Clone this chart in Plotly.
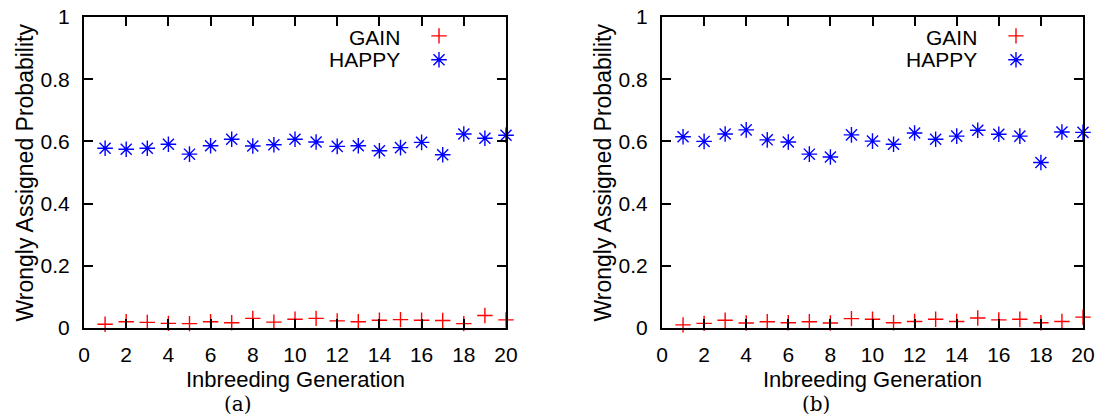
import plotly.graph_objects as go

W, H = 1101, 416

generations = list(range(1, 21))

gain_a = [0.012, 0.020, 0.018, 0.015, 0.014, 0.020, 0.017, 0.031, 0.019, 0.028,
          0.031, 0.023, 0.020, 0.025, 0.027, 0.025, 0.024, 0.014, 0.040, 0.026]
happy_a = [0.578, 0.575, 0.578, 0.591, 0.559, 0.586, 0.607, 0.585, 0.589, 0.607,
           0.598, 0.584, 0.586, 0.570, 0.580, 0.597, 0.557, 0.624, 0.610, 0.620]

gain_b = [0.010, 0.015, 0.025, 0.016, 0.020, 0.017, 0.020, 0.016, 0.030, 0.028,
          0.017, 0.021, 0.028, 0.021, 0.032, 0.026, 0.028, 0.017, 0.021, 0.035]
happy_b = [0.615, 0.600, 0.624, 0.637, 0.605, 0.598, 0.559, 0.550, 0.621, 0.601,
           0.591, 0.627, 0.607, 0.617, 0.636, 0.623, 0.617, 0.532, 0.630, 0.629]

x_ticks = list(range(0, 21, 2))
y_ticks = [0, 0.2, 0.4, 0.6, 0.8, 1]
y_tick_text = ["0", "0.2", "0.4", "0.6", "0.8", "1"]

series_names = ["GAIN", "HAPPY"]
x_title = "Inbreeding Generation"
y_title = "Wrongly Assigned Probability"
captions = ["(a)", "(b)"]

RED = "#ff0000"
BLUE = "#0000ff"
FONT = "Liberation Sans, Arial, sans-serif"
SERIF = "DejaVu Serif, Liberation Serif, serif"


def px_x(p):
    return p / W


def px_y(p):
    return 1 - p / H


panels = [
    dict(gain=gain_a, happy=happy_a, left=84, right=506, xa="x", ya="y", legend="legend"),
    dict(gain=gain_b, happy=happy_b, left=662, right=1083, xa="x2", ya="y2", legend="legend2"),
]
top, bottom = 17, 328

fig = go.Figure()
for p in panels:
    fig.add_trace(go.Scatter(
        x=generations, y=p["gain"], mode="markers", name="",
        xaxis=p["xa"], yaxis=p["ya"], legend=p["legend"], cliponaxis=False,
        hovertemplate="GAIN: %{y}<extra></extra>",
        marker=dict(symbol="cross-thin-open", size=11, line=dict(color=RED, width=1.4), color=RED),
    ))
    fig.add_trace(go.Scatter(
        x=generations, y=p["happy"], mode="markers", name="",
        xaxis=p["xa"], yaxis=p["ya"], legend=p["legend"], cliponaxis=False,
        hovertemplate="HAPPY: %{y}<extra></extra>",
        marker=dict(symbol="asterisk-open", size=13, line=dict(color=BLUE, width=1.4), color=BLUE),
    ))

axis_common = dict(
    showline=True, linecolor="black", linewidth=2, mirror="allticks",
    ticks="inside", ticklen=9, tickwidth=1.5, tickcolor="black",
    showgrid=False, zeroline=False, automargin=False,
    tickfont=dict(family=FONT, size=21, color="black"),
)

layout = dict(
    width=W, height=H,
    margin=dict(l=0, r=0, t=0, b=0, autoexpand=False),
    paper_bgcolor="white", plot_bgcolor="white",
    font=dict(family=FONT, size=21, color="black"),
    annotations=[],
)

for i, p in enumerate(panels):
    sfx = "" if i == 0 else "2"
    layout["xaxis" + sfx] = dict(
        axis_common, domain=[px_x(p["left"]), px_x(p["right"])], range=[0, 20],
        tickvals=x_ticks, anchor="y" + sfx, ticklabelstandoff=7,
    )
    layout["yaxis" + sfx] = dict(
        axis_common, domain=[px_y(bottom), px_y(top)], range=[0, 1],
        tickvals=y_ticks, ticktext=y_tick_text, anchor="x" + sfx, ticklabelstandoff=8,
    )
    cx = (p["left"] + p["right"]) / 2
    layout["annotations"] += [
        dict(text=x_title, x=px_x(cx), y=px_y(379), xref="paper", yref="paper",
             showarrow=False, xanchor="center", yanchor="middle",
             font=dict(family=FONT, size=22)),
        dict(text=y_title, x=px_x(p["left"] - 60), y=px_y((top + bottom) / 2), xref="paper", yref="paper",
             showarrow=False, xanchor="center", yanchor="middle", textangle=-90,
             font=dict(family=FONT, size=23)),
        dict(text=captions[i], x=px_x(p["left"] + 154), y=px_y(404), xref="paper", yref="paper",
             showarrow=False, xanchor="center", yanchor="middle",
             font=dict(family=SERIF, size=20)),
        dict(text=series_names[0], x=px_x(p["right"] - 104), y=px_y(37), xref="paper", yref="paper",
             showarrow=False, xanchor="right", yanchor="middle",
             font=dict(family=FONT, size=21)),
        dict(text=series_names[1], x=px_x(p["right"] - 104), y=px_y(60), xref="paper", yref="paper",
             showarrow=False, xanchor="right", yanchor="middle",
             font=dict(family=FONT, size=21)),
    ]
    layout[p["legend"]] = dict(
        x=px_x(p["right"] - 65 - 22), y=px_y(19), xanchor="left", yanchor="top",
        bgcolor="rgba(0,0,0,0)", borderwidth=0, tracegroupgap=0,
        font=dict(family=FONT, size=16), itemwidth=30,
    )

fig.update_layout(**layout)
fig.write_html("out.html")
